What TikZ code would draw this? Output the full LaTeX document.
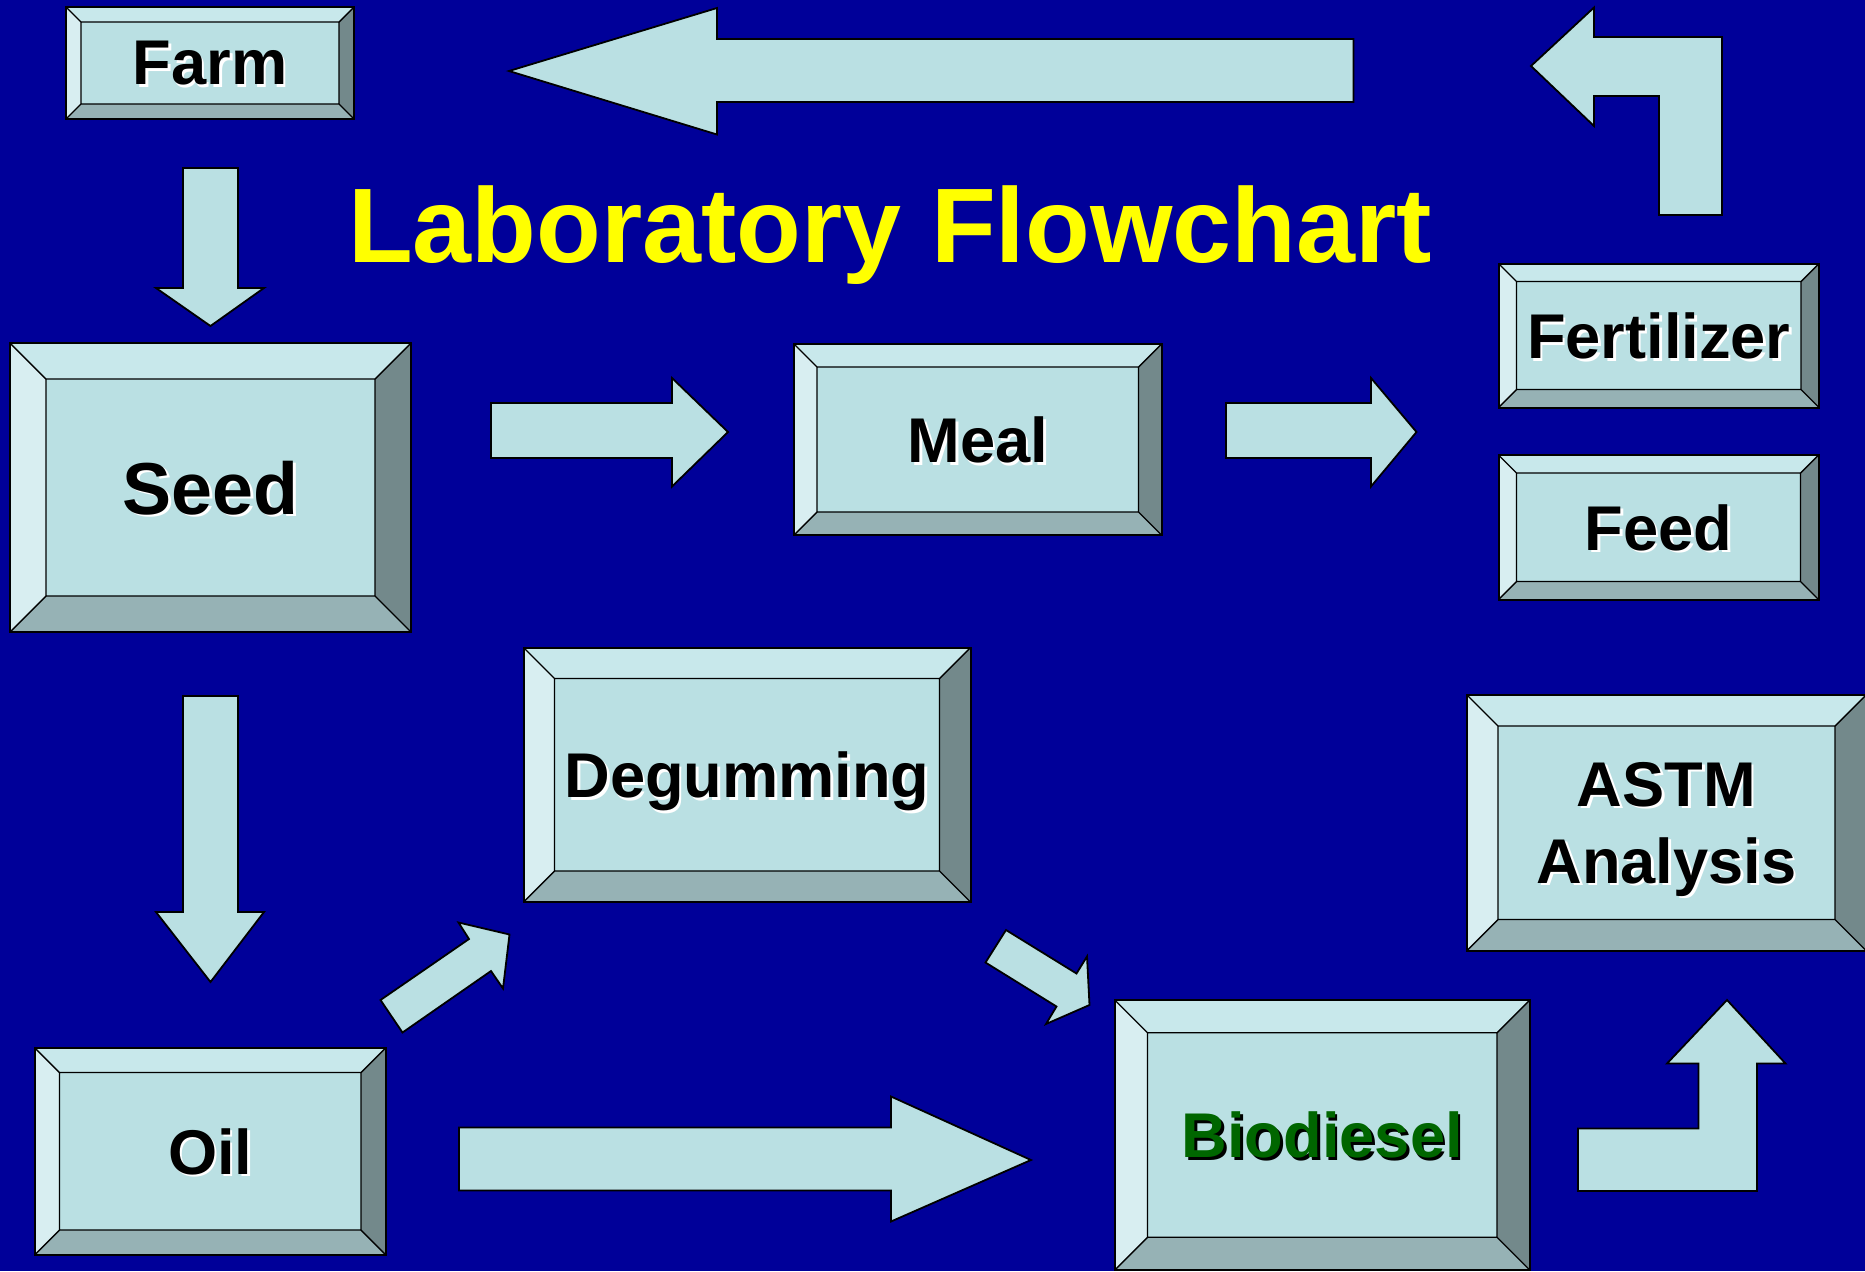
\documentclass[tikz,border=0pt]{standalone}
\usepackage{fontspec}
\setmainfont{Liberation Sans}

\definecolor{bgblue}{RGB}{0,0,153}
\definecolor{face}{RGB}{186,224,227}
\definecolor{bvtop}{RGB}{200,232,235}
\definecolor{bvleft}{RGB}{216,238,241}
\definecolor{bvbottom}{RGB}{150,178,181}
\definecolor{bvright}{RGB}{115,137,139}
\definecolor{biogreen}{RGB}{0,102,0}
\definecolor{titleyellow}{RGB}{255,255,0}

% text with an offset copy behind it
\newcommand\embossed[2][white]{\rlap{\kern1.3pt\smash{\raisebox{-1.3pt}{\color{#1}#2}}}#2}

\tikzset{
  panel/.style={rectangle, draw=black, line width=1pt, fill=face, inner sep=0pt, outer sep=0pt,
    text depth=0pt, align=center, font=\fontsize{31.6}{38.5}\selectfont\bfseries,
    path picture={
      \coordinate (bvA) at (path picture bounding box.north west);
      \coordinate (bvB) at (path picture bounding box.north east);
      \coordinate (bvC) at (path picture bounding box.south east);
      \coordinate (bvD) at (path picture bounding box.south west);
      \coordinate (inA) at ([shift={(#1pt,-#1pt)}]bvA);
      \coordinate (inB) at ([shift={(-#1pt,-#1pt)}]bvB);
      \coordinate (inC) at ([shift={(-#1pt,#1pt)}]bvC);
      \coordinate (inD) at ([shift={(#1pt,#1pt)}]bvD);
      \fill[bvtop] (bvA) -- (bvB) -- (inB) -- (inA) -- cycle;
      \fill[bvright] (bvB) -- (bvC) -- (inC) -- (inB) -- cycle;
      \fill[bvbottom] (bvC) -- (bvD) -- (inD) -- (inC) -- cycle;
      \fill[bvleft] (bvD) -- (bvA) -- (inA) -- (inD) -- cycle;
      \draw[line width=.7pt] (inA) rectangle (inC)
        (bvA) -- (inA) (bvB) -- (inB) (bvC) -- (inC) (bvD) -- (inD);
    }},
  blockarrow/.style={fill=face, draw=black, line width=.9pt, line join=miter},
  headline/.style={text=titleyellow, font=\fontsize{53}{60}\selectfont\bfseries, inner sep=0pt}
}

\begin{document}
\begin{tikzpicture}[x=.5pt, y=-.5pt]
\useasboundingbox (0,0) rectangle (1865,1271);
\fill[bgblue] (0,0) rectangle (1865,1271);

\node[headline, anchor=base] (title) at (890,262.5) {Laboratory Flowchart};

% boxes
\node[panel=7.5, minimum width=144pt, minimum height=56pt] (farm) at (210,63) {\embossed{Farm}};
\node[panel=18, minimum width=200.5pt, minimum height=144.5pt, font=\fontsize{36.8}{43}\selectfont\bfseries] (seed) at (210.5,487.5) {\embossed{Seed}};
\node[panel=11.5, minimum width=183.75pt, minimum height=95.5pt] (meal) at (977.75,439.5) {\embossed{Meal}};
\node[panel=9, minimum width=160.25pt, minimum height=72pt] (fert) at (1658.75,335.5) {\embossed{Fertilizer}};
\node[panel=9, minimum width=160pt, minimum height=72.25pt] (feed) at (1658.5,527.25) {\embossed{Feed}};
\node[panel=12.5, minimum width=175.75pt, minimum height=103.75pt] (oil) at (210.25,1151.25) {\embossed{Oil}};
\node[panel=15.5, minimum width=223.5pt, minimum height=127.25pt] (degum) at (747,774.75) {\embossed{Degumming}};
\node[panel=15.5, minimum width=199.5pt, minimum height=127.75pt] (astm) at (1666.5,822.75) {\embossed{ASTM}\\\embossed{Analysis}};
\node[panel=16.5, minimum width=207.75pt, minimum height=135.25pt] (bio) at (1322.25,1135) {\textcolor{biogreen}{\embossed[black]{Biodiesel}}};

% arrows
\draw[blockarrow] (509,71) -- (717,8) -- (717,39) -- (1353.5,39) -- (1353.5,102) -- (717,102) -- (717,134.5) -- cycle;
\draw[blockarrow] (1531,66) -- (1594,7.5) -- (1594,37) -- (1722,37) -- (1722,215) -- (1659,215) -- (1659,96) -- (1594,96) -- (1594,126) -- cycle;
\draw[blockarrow] (183,168) -- (238,168) -- (238,288) -- (264,288) -- (210.5,326) -- (156,288) -- (183,288) -- cycle;
\draw[blockarrow] (183,696) -- (238,696) -- (238,912) -- (264,912) -- (210.5,982) -- (156,912) -- (183,912) -- cycle;
\draw[blockarrow] (491,403) -- (672,403) -- (672,378) -- (728,432) -- (672,486.5) -- (672,458) -- (491,458) -- cycle;
\draw[blockarrow] (1226,403) -- (1371,403) -- (1371,378) -- (1416.5,432) -- (1371,486.5) -- (1371,458) -- (1226,458) -- cycle;
\draw[blockarrow] (459,1127.5) -- (891,1127.5) -- (891,1096.5) -- (1031,1160) -- (891,1221.5) -- (891,1190.5) -- (459,1190.5) -- cycle;
\draw[blockarrow] (380.5,1000) -- (469,939) -- (458.5,922.5) -- (509.5,934.5) -- (503,988.5) -- (491,971) -- (402.5,1032.5) -- cycle;
\draw[blockarrow] (1006,930) -- (1076.5,973.5) -- (1087,956.5) -- (1089.5,1005) -- (1046,1024) -- (1056.5,1006.5) -- (985.5,962.5) -- cycle;
\draw[blockarrow] (1727,1000) -- (1785.5,1063.5) -- (1757,1063.5) -- (1757,1191) -- (1578,1191) -- (1578,1128.5) -- (1698.5,1128.5) -- (1698.5,1063.5) -- (1667,1063.5) -- cycle;
\end{tikzpicture}
\end{document}
